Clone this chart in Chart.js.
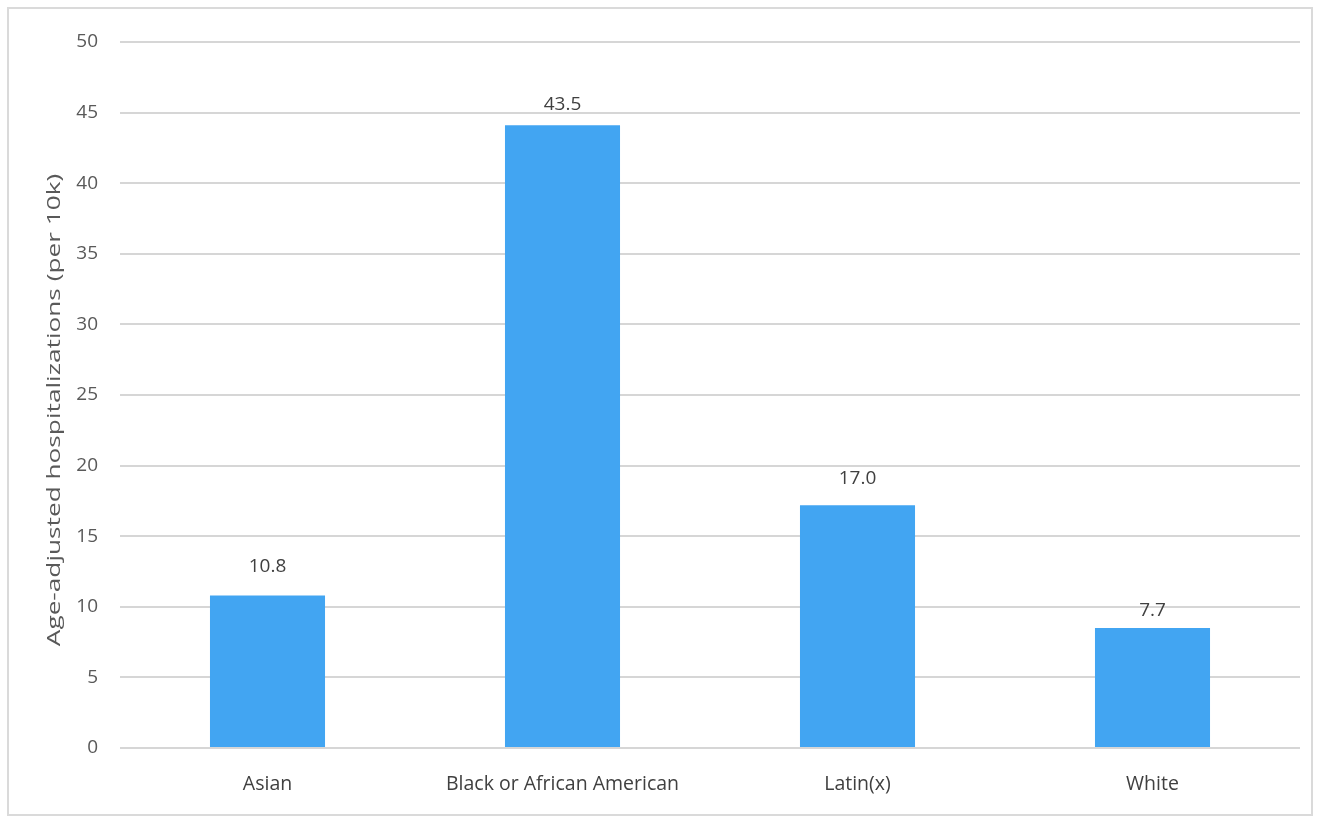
<!DOCTYPE html>
<html>
<head>
<meta charset="utf-8">
<script src="https://cdn.jsdelivr.net/npm/chart.js@4.4.0/dist/chart.umd.min.js"></script>
<style>
  html, body { margin: 0; padding: 0; background: #ffffff; }
  #wrap { position: relative; width: 1322px; height: 822px; }
  #frame { position: absolute; left: 7px; top: 7px; width: 1306px; height: 809px; border: 2px solid #dadada; box-sizing: border-box; pointer-events: none; }
  canvas { position: absolute; left: 0; top: 0; }
</style>
</head>
<body>
<div id="wrap">
  <canvas id="c" width="1322" height="822"></canvas>
  <div id="frame"></div>
</div>
<script>
const categories = ["Asian", "Black or African American", "Latin(x)", "White"];
const barValues = [10.8, 44.1, 17.2, 8.5];
const labelValues = [10.8, 43.5, 17.0, 7.7];
const labelTexts = ["10.8", "43.5", "17.0", "7.7"];
const yTicks = [0, 5, 10, 15, 20, 25, 30, 35, 40, 45, 50];
const yTitle = "Age-adjusted hospitalizations (per 10k)";

const FONT = "'Open Sans', 'Noto Sans', sans-serif";

const valueLabels = {
  id: 'valueLabels',
  afterDatasetsDraw(chart) {
    const { ctx, scales: { x, y } } = chart;
    ctx.save();
    ctx.font = "19px " + FONT;
    ctx.fillStyle = "#404040";
    ctx.textAlign = "center";
    ctx.textBaseline = "middle";
    labelValues.forEach((v, i) => {
      const px = x.getPixelForValue(i);
      const py = y.getPixelForValue(v) - 29;
      ctx.fillText(labelTexts[i], px, py);
    });
    ctx.restore();
  }
};

const yTitlePlugin = {
  id: 'yTitlePlugin',
  afterDraw(chart) {
    const { ctx, chartArea } = chart;
    ctx.save();
    ctx.translate(55, (chartArea.top + chartArea.bottom) / 2 + 15);
    ctx.rotate(-Math.PI / 2);
    ctx.scale(1.38, 1);
    ctx.font = "19px " + FONT;
    ctx.fillStyle = "#595959";
    ctx.textAlign = "center";
    ctx.textBaseline = "middle";
    ctx.fillText(yTitle, 0, 0);
    ctx.restore();
  }
};

new Chart(document.getElementById('c'), {
  type: 'bar',
  data: {
    labels: categories,
    datasets: [{
      data: barValues,
      backgroundColor: '#42A5F2',
      borderWidth: 0,
      categoryPercentage: 1.0,
      barPercentage: 0.39
    }]
  },
  options: {
    responsive: false,
    animation: false,
    layout: { padding: { left: 0, top: 42, right: 22, bottom: 0 } },
    plugins: { legend: { display: false }, tooltip: { enabled: false } },
    scales: {
      x: {
        grid: { display: false, drawTicks: false },
        border: { display: false },
        ticks: { color: '#404040', font: { family: FONT, size: 19.5 }, padding: 25 },
        afterFit(scale) { scale.height = 74; }
      },
      y: {
        min: 0, max: 50,
        afterBuildTicks(scale) { scale.ticks = yTicks.map(v => ({ value: v })); },
        grid: { color: '#d6d6d6', lineWidth: 2, drawTicks: false },
        border: { display: false },
        ticks: { color: '#595959', font: { family: FONT, size: 19 }, padding: 22 },
        title: { display: false },
        afterFit(scale) { scale.width = 120; }
      }
    }
  },
  plugins: [valueLabels, yTitlePlugin]
});
</script>
</body>
</html>
